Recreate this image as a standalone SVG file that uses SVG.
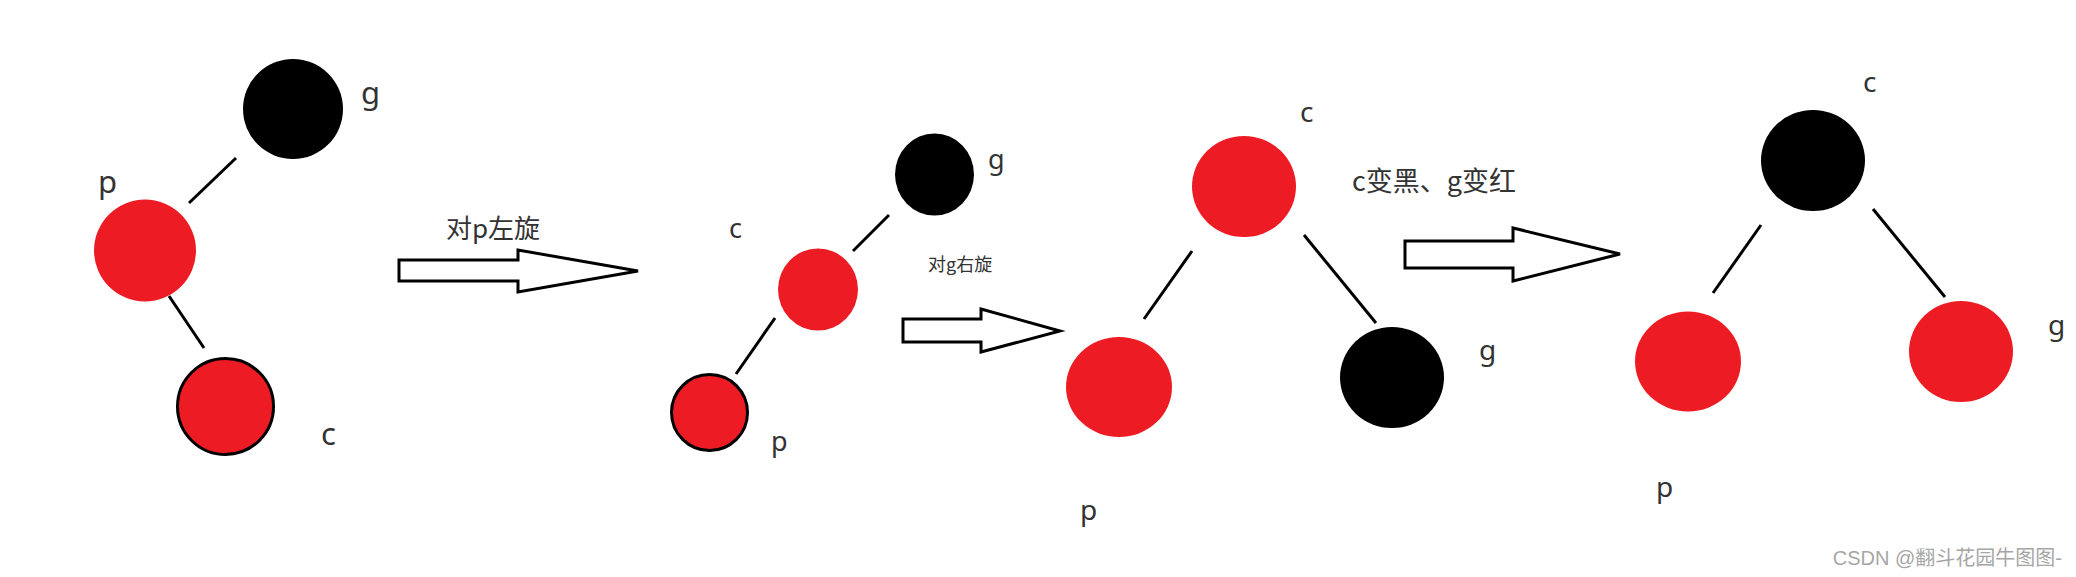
<svg xmlns="http://www.w3.org/2000/svg" width="2076" height="577" viewBox="0 0 2076 577">
<style>
.red{fill:#ED1C24}
.blk{fill:#000}
.ol{stroke:#000;stroke-width:3}
.lbl{font-family:"Noto Sans","Open Sans",sans-serif;fill:#333}
.cjk{font-family:"Noto Sans CJK SC","Noto Sans",sans-serif;fill:#333}
.arrow{fill:#fff;stroke:#000;stroke-width:3;stroke-linejoin:miter}
.edge{stroke:#000;stroke-width:3;fill:none}
.wm{font-family:"Liberation Sans","Noto Sans CJK SC",sans-serif;fill:#a6a6a6;font-size:20px}
</style>
<rect width="2076" height="577" fill="#fff"/>
<g id="connectors">
  <line class="edge" x1="236" y1="158" x2="189" y2="203"/>
  <line class="edge" x1="169" y1="296" x2="204" y2="348"/>
  <line class="edge" x1="889" y1="215" x2="853" y2="251"/>
  <line class="edge" x1="775" y1="318" x2="736" y2="374"/>
  <line class="edge" x1="1192" y1="251" x2="1144" y2="319"/>
  <line class="edge" x1="1304" y1="235" x2="1376" y2="323"/>
  <line class="edge" x1="1761" y1="225" x2="1713" y2="293"/>
  <line class="edge" x1="1873" y1="209" x2="1945" y2="297"/>
</g>
<g id="arrows">
  <polygon class="arrow" points="399,260 518,260 518,250 638,271 518,292 518,281 399,281"/>
  <text class="cjk" x="446" y="238" font-size="26">对p左旋</text>
  <polygon class="arrow" points="903,319 981,319 981,309 1060,331 981,352 981,342 903,342"/>
  <text class="cjk" x="928" y="271" font-size="18">对g右旋</text>
  <polygon class="arrow" points="1405,241 1513,241 1513,228 1620,254 1513,281 1513,268 1405,268"/>
  <text class="cjk" x="1352" y="191" font-size="27">c变黑、g变红</text>
</g>
<g id="tree1">
  <g id="t1-g"><circle class="blk" cx="293" cy="109" r="50"/><text class="lbl" x="361" y="104" font-size="31">g</text></g>
  <g id="t1-p"><circle class="red" cx="145" cy="250.5" r="51"/><text class="lbl" x="98" y="193" font-size="31">p</text></g>
  <g id="t1-c"><circle class="red ol" cx="225.5" cy="406.5" r="48"/><text class="lbl" x="321" y="445" font-size="31">c</text></g>
</g>
<g id="tree2">
  <g id="t2-g"><ellipse class="blk" cx="934.5" cy="174.5" rx="39.5" ry="41"/><text class="lbl" x="988" y="169" font-size="27">g</text></g>
  <g id="t2-c"><ellipse class="red" cx="818" cy="289.5" rx="40" ry="41"/><text class="lbl" x="729" y="238" font-size="27">c</text></g>
  <g id="t2-p"><circle class="red ol" cx="709.5" cy="412.5" r="38"/><text class="lbl" x="771" y="451" font-size="27">p</text></g>
</g>
<g id="tree3">
  <g id="t3-c"><ellipse class="red" cx="1244" cy="186.5" rx="52" ry="50.5"/><text class="lbl" x="1300" y="122" font-size="28">c</text></g>
  <g id="t3-p"><ellipse class="red" cx="1119" cy="387" rx="53" ry="50"/><text class="lbl" x="1080" y="520" font-size="28">p</text></g>
  <g id="t3-g"><ellipse class="blk" cx="1392" cy="377.5" rx="52" ry="50.5"/><text class="lbl" x="1479" y="360" font-size="28">g</text></g>
</g>
<g id="tree4">
  <g id="t4-c"><ellipse class="blk" cx="1813" cy="160.5" rx="52" ry="50.5"/><text class="lbl" x="1863" y="92" font-size="28">c</text></g>
  <g id="t4-p"><ellipse class="red" cx="1688" cy="361.5" rx="53" ry="50"/><text class="lbl" x="1656" y="497" font-size="28">p</text></g>
  <g id="t4-g"><ellipse class="red" cx="1961" cy="351.5" rx="52" ry="50.5"/><text class="lbl" x="2048" y="335" font-size="28">g</text></g>
</g>
<text class="wm" x="2062" y="565" text-anchor="end">CSDN @翻斗花园牛图图-</text>
</svg>
